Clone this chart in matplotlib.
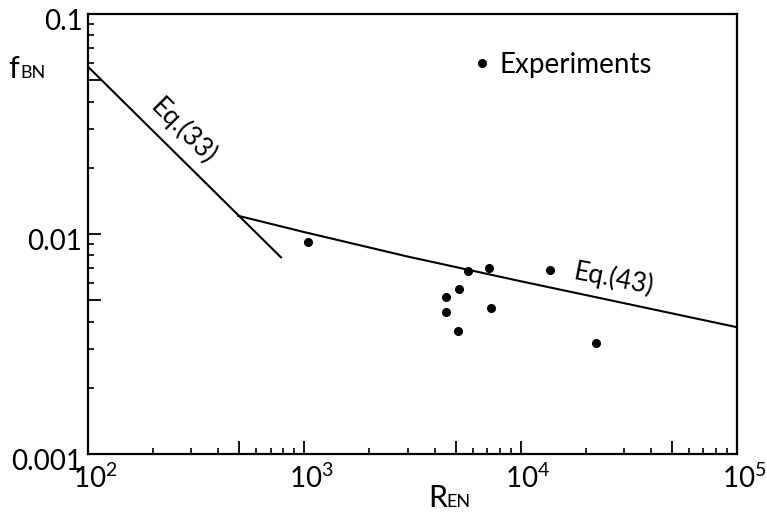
import numpy as np
import matplotlib
matplotlib.use('Agg')
import matplotlib.pyplot as plt
import matplotlib.transforms as mtransforms
from matplotlib.ticker import FixedLocator, FixedFormatter

plt.rcParams['font.family'] = ['Lato', 'DejaVu Sans']
plt.rcParams['mathtext.default'] = 'regular'

# experimental points (Re_N, f_BN)
exp_re = [1035, 5730, 7160, 13650, 5160, 4520, 4520, 7260, 5150, 22200]
exp_f = [0.00916, 0.00676, 0.0070, 0.00687, 0.00565, 0.00518, 0.00442, 0.0046, 0.00361, 0.00318]

# Eq.(33) line
eq33_re = [100, 780]
eq33_f = [0.0576, 0.00783]

# Eq.(43) curve
eq43_re = [495, 1000, 3000, 10000, 30000, 100000]
eq43_f = [0.0121, 0.0102, 0.0079, 0.0061, 0.00485, 0.00377]

xtick_major = [1e2, 5e2, 1e3, 5e3, 1e4, 5e4, 1e5]
xtick_labels = [r'$10^{2}$', '', r'$10^{3}$', '', r'$10^{4}$', '', r'$10^{5}$']
ytick_major = [1e-3, 5e-3, 1e-2, 5e-2, 1e-1]
ytick_labels = ['0.001', '', '0.01', '', '0.1']

W, H = 767, 513
fig = plt.figure(figsize=(W / 100, H / 100), dpi=100)
ax = fig.add_axes([88 / W, 1 - 454 / H, (737 - 88) / W, (454 - 14) / H])

ax.plot(eq33_re, eq33_f, color='black', lw=1.5)
ax.plot(eq43_re, eq43_f, color='black', lw=1.5)
ax.plot(exp_re, exp_f, 'o', color='black', ms=5.5, label='Experiments')

ax.set_xscale('log')
ax.set_yscale('log')
ax.set_xlim(1e2, 1e5)
ax.set_ylim(1e-3, 1e-1)

minor_x = [m * 10 ** e for e in (2, 3, 4) for m in (2, 3, 4, 6, 7, 8, 9)]
minor_y = [m * 10 ** e for e in (-3, -2) for m in (2, 3, 4, 6, 7, 8, 9)]
ax.xaxis.set_major_locator(FixedLocator(xtick_major))
ax.xaxis.set_major_formatter(FixedFormatter(xtick_labels))
ax.xaxis.set_minor_locator(FixedLocator(minor_x))
ax.xaxis.set_minor_formatter(FixedFormatter([''] * len(minor_x)))
ax.yaxis.set_major_locator(FixedLocator(ytick_major))
ax.yaxis.set_major_formatter(FixedFormatter(ytick_labels))
ax.yaxis.set_minor_locator(FixedLocator(minor_y))
ax.yaxis.set_minor_formatter(FixedFormatter([''] * len(minor_y)))

ax.tick_params(which='major', direction='in', length=9.5, width=1.3, labelsize=20)
ax.tick_params(which='minor', direction='in', length=4.5, width=1.2)
ax.tick_params(axis='x', which='major', pad=7)
ax.tick_params(axis='y', which='major', pad=4)
for s in ax.spines.values():
    s.set_linewidth(1.6)

dx = mtransforms.ScaledTranslation(0.07, 0, fig.dpi_scale_trans)
for lab in ax.get_xticklabels():
    lab.set_transform(lab.get_transform() + dx)
dy = mtransforms.ScaledTranslation(0, -0.05, fig.dpi_scale_trans)
for lab in ax.get_yticklabels():
    lab.set_transform(lab.get_transform() + dy)

ax.legend(loc='center left', bbox_to_anchor=((474 - 88) / 649, (454 - 65) / 440),
          frameon=False, handlelength=0.6, handletextpad=0.3, fontsize=20,
          borderaxespad=0, borderpad=0)

def px(x, y):
    return x / W, 1 - y / H

fig.text(*px(183, 131), 'Eq.(33)', rotation=-45, ha='center', va='center',
         rotation_mode='anchor', fontsize=19)
fig.text(*px(614, 279), 'Eq.(43)', rotation=-11, ha='center', va='center',
         rotation_mode='anchor', fontsize=19)

fig.text(*px(8, 78), 'f', fontsize=22, ha='left', va='baseline')
fig.text(*px(20, 78), 'BN', fontsize=13, ha='left', va='baseline')
fig.text(*px(428, 507), 'R', fontsize=22, ha='left', va='baseline')
fig.text(*px(446, 507), 'EN', fontsize=13, ha='left', va='baseline')

fig.savefig('out.png', dpi=100)
